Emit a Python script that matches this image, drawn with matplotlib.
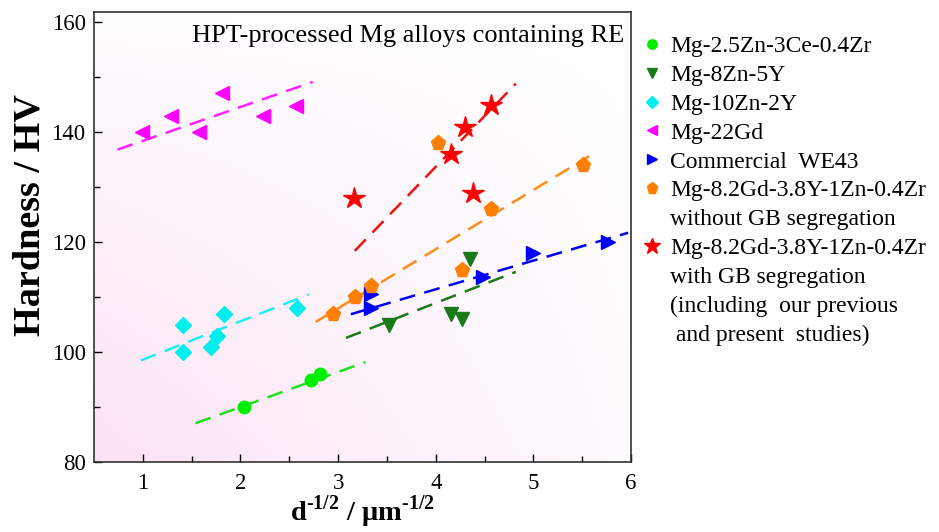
import numpy as np
import matplotlib
matplotlib.use("Agg")
import matplotlib.pyplot as plt
from matplotlib.lines import Line2D
from matplotlib.colors import LinearSegmentedColormap

# ---------------- data ----------------
labels = ["Mg-2.5Zn-3Ce-0.4Zr", "Mg-8Zn-5Y", "Mg-10Zn-2Y", "Mg-22Gd",
          "Commercial  WE43", "Mg-8.2Gd-3.8Y-1Zn-0.4Zr", "Mg-8.2Gd-3.8Y-1Zn-0.4Zr"]
extra_lines = {5: ["without GB segregation"],
               6: ["with GB segregation", "(including  our previous", " and present  studies)"]}

x_ce = [2.04, 2.72, 2.81]
y_ce = [90.0, 95.0, 96.0]
x_8zn = [3.52, 4.16, 4.27, 4.35]
y_8zn = [105.0, 107.0, 106.0, 117.0]
x_10zn = [1.41, 1.41, 1.70, 1.76, 1.83, 2.58]
y_10zn = [105.0, 100.0, 101.0, 103.0, 107.0, 108.0]
x_gd = [0.99, 1.29, 1.58, 1.81, 2.23, 2.57]
y_gd = [140.0, 143.0, 140.0, 147.0, 143.0, 144.7]
x_we = [3.34, 3.34, 4.48, 5.00, 5.76]
y_we = [108.0, 110.5, 113.7, 118.0, 120.0]
x_nogb = [2.95, 3.17, 3.34, 4.27, 4.57, 4.02, 5.51]
y_nogb = [107.0, 110.0, 112.0, 115.0, 126.0, 138.0, 134.0]
x_gb = [3.16, 4.16, 4.30, 4.38, 4.57]
y_gb = [128.0, 136.0, 141.0, 129.0, 145.0]

# dashed guide lines: (x_start, x_end), (y_start, y_end)
fit_x_ce, fit_y_ce = [1.54, 3.28], [87.1, 98.2]
fit_x_8zn, fit_y_8zn = [3.08, 4.82], [102.6, 114.6]
fit_x_10zn, fit_y_10zn = [0.98, 2.70], [98.5, 110.5]
fit_x_gd, fit_y_gd = [0.74, 2.74], [136.8, 149.1]
fit_x_we, fit_y_we = [3.13, 5.97], [106.9, 121.7]
fit_x_nogb, fit_y_nogb = [2.77, 5.57], [105.5, 135.6]
fit_x_gb, fit_y_gb = [3.17, 4.82], [118.4, 148.8]

xticks = [1, 2, 3, 4, 5, 6]
yticks = [80, 100, 120, 140, 160]

# ---------------- style ----------------
serif = ["Liberation Serif", "DejaVu Serif"]
plt.rcParams["font.family"] = serif
plt.rcParams["mathtext.fontset"] = "custom"
plt.rcParams["mathtext.rm"] = "Liberation Serif"
plt.rcParams["mathtext.bf"] = "Liberation Serif:bold"

fig = plt.figure(figsize=(9.39, 5.32), dpi=100)
ax = fig.add_axes([0.1001, 0.131, 0.572, 0.8464])

# background gradient (pink at lower left, fading to white)
cmap = LinearSegmentedColormap.from_list("bg", ["#ffffff", "#fbe4f6"])
gx, gy = np.meshgrid(np.linspace(0, 1, 200), np.linspace(0, 1, 200))
grad = np.clip((1 - gx) * 0.9 * (1 - gy) ** 0.8 + 0.15 * (1 - gy), 0, 1)
ax.imshow(grad, cmap=cmap, extent=[0.5, 6, 80, 161.8], origin="lower",
          aspect="auto", zorder=0, vmin=0, vmax=1)

series = [
    (x_ce, y_ce, fit_x_ce, fit_y_ce, "o", "#00ee00", "#22dd22", 9),
    (x_8zn, y_8zn, fit_x_8zn, fit_y_8zn, "v", "#1a7a1a", "#1a7a1a", 10),
    (x_10zn, y_10zn, fit_x_10zn, fit_y_10zn, "D", "#00eeee", "#22eeee", 8),
    (x_gd, y_gd, fit_x_gd, fit_y_gd, "<", "#ff00ff", "#ff22ff", 10),
    (x_we, y_we, fit_x_we, fit_y_we, ">", "#0000ff", "#0000ee", 10),
    (x_nogb, y_nogb, fit_x_nogb, fit_y_nogb, "p", "#ff8000", "#ff8c1a", 11),
    (x_gb, y_gb, fit_x_gb, fit_y_gb, "*", "#ff0000", "#ee1111", 16),
]

handles, hlabels = [], []
for i, (xs, ys, fx, fy, mk, col, lcol, ms) in enumerate(series):
    ax.plot(fx, fy, color=lcol, lw=1.8, ls=(0, (6.4, 3.8)), zorder=2)
    ax.plot(xs, ys, ls="none", marker=mk, color=col, mec=col, ms=ms, zorder=3)
    handles.append(Line2D([], [], ls="none", marker=mk, color=col, mec=col,
                          ms=ms * 0.75))
    hlabels.append(labels[i])
    for t in extra_lines.get(i, []):
        handles.append(Line2D([], [], ls="none", marker=None))
        hlabels.append(t)

ax.set_xlim(0.5, 6)
ax.set_ylim(80, 161.8)
ax.set_xticks(xticks)
ax.set_yticks(yticks)
ax.set_xticks(np.arange(1.5, 6, 1.0), minor=True)
ax.set_yticks(np.arange(90, 160, 20), minor=True)
ax.tick_params(which="both", direction="in", top=False, right=False,
               labelsize=16.5, width=1.0)
ax.tick_params(axis="x", which="major", pad=8)
ax.tick_params(axis="y", which="major", pad=6)
ax.tick_params(which="major", length=6)
ax.tick_params(which="minor", length=4)
for s in ax.spines.values():
    s.set_linewidth(1.2)
    s.set_color("#333333")

ax.set_xlabel(r"$\mathbf{d}^{\mathbf{\text{-}1/2}}$ / $\mathbf{\mu m}^{\mathbf{\text{-}1/2}}$",
              fontsize=20.5, fontweight="bold", labelpad=-0.5)
ax.set_ylabel("Hardness / HV", fontsize=27.5, fontweight="bold")
ax.yaxis.set_label_coords(-0.087, 0.55)

ax.text(0.988, 0.972, "HPT-processed Mg alloys containing RE", transform=ax.transAxes,
        ha="right", va="top", fontsize=19)

leg = ax.legend(handles, hlabels, loc="upper left", bbox_to_anchor=(1.0, 0.979),
                frameon=False, fontsize=17, handlelength=0.6, handletextpad=0.45,
                labelspacing=0.31, borderaxespad=0.2)

fig.savefig("out.png", dpi=100)
